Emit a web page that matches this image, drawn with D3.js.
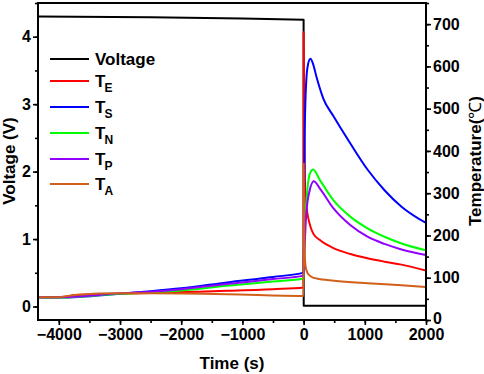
<!DOCTYPE html>
<html>
<head>
<meta charset="utf-8">
</head>
<body style="margin:0">
<style>
    body { background: #fff; }
    text { font-family: Arial, "Liberation Sans", sans-serif; font-weight: bold; fill: #000; }
    .axis path, .axis line { stroke: #000; stroke-width: 1.6px; }
    .frame { fill: none; stroke: #000; stroke-width: 2px; }
    path.series { fill: none; stroke-width: 2px; stroke-linejoin: round; }
</style>
<script src="https://cdn.jsdelivr.net/npm/d3@7"></script>
<script>

    var width = 484, height = 374;
    var margin = {top: 3, right: 58, bottom: 54, left: 38};

    // time (s), value pairs
    var voltage = [[-4340, 4.30], [-2500, 4.29], [-1000, 4.27], [0, 4.25], [2, 0.01], [2000, 0.01]];

    var tE = [[-4340, 54], [-4000, 54], [-3700, 59], [-3000, 62], [-2500, 64], [-2000, 66], [-1250, 69], [-500, 73], [0, 77],
        [1, 681], [12, 450], [22, 330], [33, 291], [50, 265], [72, 244], [110, 222], [156, 205], [267, 189],
        [489, 170], [767, 156], [1044, 146], [1322, 138], [1600, 131], [2000, 117]];

    var tS = [[-4340, 54], [-4000, 53], [-3000, 62], [-2500, 68], [-2000, 75], [-1250, 89], [-500, 102], [0, 112],
        [5, 200], [17, 425], [30, 520], [44, 567], [70, 603], [111, 618], [150, 608], [211, 575], [322, 524],
        [489, 482], [767, 417], [1044, 356], [1322, 307], [1600, 268], [1878, 240], [2000, 230]];

    var tN = [[-4340, 54], [-4000, 53], [-3000, 62], [-2500, 65], [-2000, 70], [-1250, 81], [-500, 91], [0, 98],
        [15, 200], [44, 275], [100, 345], [156, 356], [267, 331], [489, 283], [767, 244], [1044, 217],
        [1322, 197], [1600, 181], [2000, 165]];

    var tP = [[-4340, 54], [-4000, 54], [-3000, 63], [-2500, 67], [-2000, 73], [-1250, 85], [-500, 97], [0, 105],
        [11, 150], [44, 252], [100, 307], [167, 328], [267, 311], [489, 264], [767, 224], [1044, 197],
        [1322, 180], [1600, 167], [2000, 154]];

    var tA = [[-4340, 54], [-4000, 54], [-3700, 60], [-3000, 63], [-2500, 63], [-1250, 61], [0, 57],
        [2, 370], [8, 250], [15, 170], [30, 130], [60, 112], [120, 103], [214, 98], [500, 93], [1044, 87],
        [1600, 82], [2000, 78]];

    var names = ["Voltage", "T|E", "T|S", "T|N", "T|P", "T|A"];
    var colors = ["#000000", "#ff0000", "#0000ff", "#00ff00", "#8f00ff", "#d0601a"];
    var xTicks = [-4000, -3000, -2000, -1000, 0, 1000, 2000];

    var svg = d3.select("body").append("svg")
        .attr("width", width)
        .attr("height", height);

    var x = d3.scaleLinear().domain([-4340, 2000]).range([margin.left, width - margin.right]);
    var yV = d3.scaleLinear().domain([-0.2, 4.5]).range([height - margin.bottom, margin.top]);
    var yT = d3.scaleLinear().domain([0, 750]).range([height - margin.bottom, margin.top]);

    svg.append("clipPath").attr("id", "clip").append("rect")
        .attr("x", margin.left).attr("y", margin.top)
        .attr("width", width - margin.left - margin.right)
        .attr("height", height - margin.top - margin.bottom);

    var lineV = d3.line().x(function (d) { return x(d[0]); }).y(function (d) { return yV(d[1]); });
    var lineT = d3.line().curve(d3.curveMonotoneX)
        .x(function (d) { return x(d[0]); }).y(function (d) { return yT(d[1]); });

    var plot = svg.append("g").attr("clip-path", "url(#clip)");
    plot.append("path").attr("class", "series").attr("d", lineV(voltage)).style("stroke", colors[0]);
    [tE, tS, tN, tP, tA].forEach(function (s, i) {
        plot.append("path").attr("class", "series").attr("d", lineT(s)).style("stroke", colors[i + 1]);
    });

    // minor ticks
    function minor(axis, ticks) {
        return axis.tickValues(ticks).tickSize(3).tickFormat("");
    }
    var bottom = height - margin.bottom;
    svg.append("g").attr("class", "axis").attr("transform", "translate(0," + bottom + ")")
        .call(minor(d3.axisBottom(x), d3.range(-4000, 2001, 500)));
    svg.append("g").attr("class", "axis").attr("transform", "translate(" + margin.left + ",0)")
        .call(minor(d3.axisLeft(yV), d3.range(0, 4.6, 0.5)));
    svg.append("g").attr("class", "axis").attr("transform", "translate(" + (width - margin.right) + ",0)")
        .call(minor(d3.axisRight(yT), d3.range(0, 751, 50)));

    var gx = svg.append("g").attr("class", "axis").attr("transform", "translate(0," + bottom + ")")
        .call(d3.axisBottom(x).tickValues(xTicks).tickSize(5).tickPadding(4).tickFormat(d3.format("d")));
    var gy = svg.append("g").attr("class", "axis").attr("transform", "translate(" + margin.left + ",0)")
        .call(d3.axisLeft(yV).tickValues([0, 1, 2, 3, 4]).tickSize(5).tickPadding(2).tickFormat(d3.format("d")));
    var gr = svg.append("g").attr("class", "axis").attr("transform", "translate(" + (width - margin.right) + ",0)")
        .call(d3.axisRight(yT).tickValues(d3.range(0, 701, 100)).tickSize(5).tickPadding(2));

    svg.selectAll(".axis text").style("font-size", "16px").style("font-family", "Arial, 'Liberation Sans', sans-serif")
        .style("font-weight", "bold").attr("fill", "#000");
    svg.selectAll(".axis .domain").remove();
    // right-axis 0 sits just above the bottom 2000 label
    gr.selectAll(".tick text").filter(function (d) { return d === 0; }).attr("dy", "0.2em");

    svg.append("rect").attr("class", "frame")
        .attr("x", margin.left).attr("y", margin.top)
        .attr("width", width - margin.left - margin.right)
        .attr("height", height - margin.top - margin.bottom);

    // axis titles
    svg.append("text").attr("x", (margin.left + width - margin.right) / 2).attr("y", 369)
        .attr("text-anchor", "middle").style("font-size", "17px").text("Time (s)");
    svg.append("text").attr("transform", "translate(15,161) rotate(-90)")
        .attr("text-anchor", "middle").style("font-size", "17px").text("Voltage (V)");
    var tt = svg.append("text").attr("transform", "translate(481,161) rotate(-90)")
        .attr("text-anchor", "middle").style("font-size", "17px");
    tt.append("tspan").text("Temperature(");
    tt.append("tspan").style("font-weight", "normal").text("\u2103");
    tt.append("tspan").text(")");

    // legend
    var legendY = [59, 81, 107, 133, 159, 184];
    names.forEach(function (n, i) {
        var g = svg.append("g").attr("transform", "translate(0," + legendY[i] + ")");
        g.append("line").attr("x1", 50).attr("x2", 89).attr("y1", 0).attr("y2", 0)
            .style("stroke", colors[i]).style("stroke-width", 2);
        var t = g.append("text").attr("x", 95).attr("y", 6).style("font-size", "17px");
        var parts = n.split("|");
        t.append("tspan").text(parts[0]);
        if (parts[1]) {
            t.append("tspan").attr("dx", -1).attr("dy", 5).style("font-size", "12px").text(parts[1]);
        }
    });

</script>
</body>
</html>
